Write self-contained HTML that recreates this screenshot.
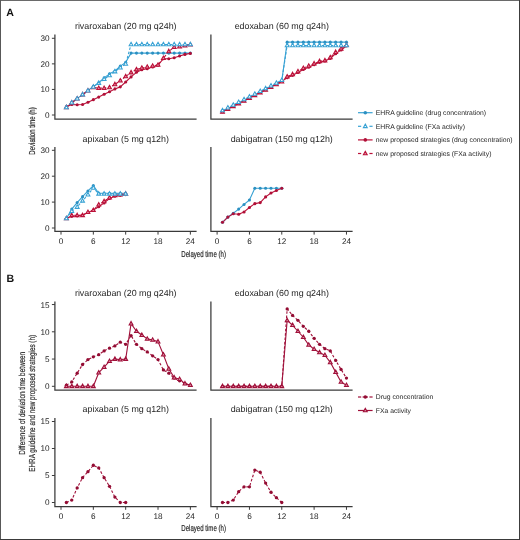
<!DOCTYPE html><html><head><meta charset="utf-8"><style>html,body{margin:0;padding:0;background:#fff;}svg{display:block;will-change:transform;text-rendering:geometricPrecision;}</style></head><body><svg width="520" height="540" viewBox="0 0 520 540" font-family='"Liberation Sans", sans-serif'>
<rect x="0" y="0" width="520" height="540" fill="#ffffff"/>
<text x="6.30" y="15.90" font-size="10.6" text-anchor="start" fill="#111" font-weight="bold" >A</text>
<text x="6.60" y="282.40" font-size="10.6" text-anchor="start" fill="#111" font-weight="bold" >B</text>
<text x="125.75" y="29.00" font-size="8.9" text-anchor="middle" fill="#262626" font-weight="normal" >rivaroxaban (20 mg q24h)</text>
<path d="M54.90,34.50 L54.90,119.00 L196.60,119.00" fill="none" stroke="#3a3a3a" stroke-width="1.25"/>
<line x1="51.90" y1="115.00" x2="54.90" y2="115.00" stroke="#3a3a3a" stroke-width="1"/>
<text x="49.50" y="117.95" font-size="8.2" text-anchor="end" fill="#262626" font-weight="normal" >0</text>
<line x1="51.90" y1="89.43" x2="54.90" y2="89.43" stroke="#3a3a3a" stroke-width="1"/>
<text x="49.50" y="92.38" font-size="8.2" text-anchor="end" fill="#262626" font-weight="normal" >10</text>
<line x1="51.90" y1="63.86" x2="54.90" y2="63.86" stroke="#3a3a3a" stroke-width="1"/>
<text x="49.50" y="66.81" font-size="8.2" text-anchor="end" fill="#262626" font-weight="normal" >20</text>
<line x1="51.90" y1="38.29" x2="54.90" y2="38.29" stroke="#3a3a3a" stroke-width="1"/>
<text x="49.50" y="41.24" font-size="8.2" text-anchor="end" fill="#262626" font-weight="normal" >30</text>
<text x="281.75" y="29.00" font-size="8.9" text-anchor="middle" fill="#262626" font-weight="normal" >edoxaban (60 mg q24h)</text>
<path d="M210.90,34.50 L210.90,119.00 L352.60,119.00" fill="none" stroke="#3a3a3a" stroke-width="1.25"/>
<text x="125.75" y="141.80" font-size="8.9" text-anchor="middle" fill="#262626" font-weight="normal" >apixaban (5 mg q12h)</text>
<path d="M54.90,147.00 L54.90,231.30 L196.60,231.30" fill="none" stroke="#3a3a3a" stroke-width="1.25"/>
<line x1="51.90" y1="228.00" x2="54.90" y2="228.00" stroke="#3a3a3a" stroke-width="1"/>
<text x="49.50" y="230.95" font-size="8.2" text-anchor="end" fill="#262626" font-weight="normal" >0</text>
<line x1="51.90" y1="202.10" x2="54.90" y2="202.10" stroke="#3a3a3a" stroke-width="1"/>
<text x="49.50" y="205.05" font-size="8.2" text-anchor="end" fill="#262626" font-weight="normal" >10</text>
<line x1="51.90" y1="176.20" x2="54.90" y2="176.20" stroke="#3a3a3a" stroke-width="1"/>
<text x="49.50" y="179.15" font-size="8.2" text-anchor="end" fill="#262626" font-weight="normal" >20</text>
<line x1="51.90" y1="150.30" x2="54.90" y2="150.30" stroke="#3a3a3a" stroke-width="1"/>
<text x="49.50" y="153.25" font-size="8.2" text-anchor="end" fill="#262626" font-weight="normal" >30</text>
<line x1="61.00" y1="231.30" x2="61.00" y2="234.60" stroke="#3a3a3a" stroke-width="1"/>
<text x="61.00" y="244.20" font-size="8.2" text-anchor="middle" fill="#262626" font-weight="normal" >0</text>
<line x1="93.34" y1="231.30" x2="93.34" y2="234.60" stroke="#3a3a3a" stroke-width="1"/>
<text x="93.34" y="244.20" font-size="8.2" text-anchor="middle" fill="#262626" font-weight="normal" >6</text>
<line x1="125.68" y1="231.30" x2="125.68" y2="234.60" stroke="#3a3a3a" stroke-width="1"/>
<text x="125.68" y="244.20" font-size="8.2" text-anchor="middle" fill="#262626" font-weight="normal" >12</text>
<line x1="158.02" y1="231.30" x2="158.02" y2="234.60" stroke="#3a3a3a" stroke-width="1"/>
<text x="158.02" y="244.20" font-size="8.2" text-anchor="middle" fill="#262626" font-weight="normal" >18</text>
<line x1="190.36" y1="231.30" x2="190.36" y2="234.60" stroke="#3a3a3a" stroke-width="1"/>
<text x="190.36" y="244.20" font-size="8.2" text-anchor="middle" fill="#262626" font-weight="normal" >24</text>
<text x="281.75" y="141.80" font-size="8.9" text-anchor="middle" fill="#262626" font-weight="normal" >dabigatran (150 mg q12h)</text>
<path d="M210.90,147.00 L210.90,231.30 L352.60,231.30" fill="none" stroke="#3a3a3a" stroke-width="1.25"/>
<line x1="217.10" y1="231.30" x2="217.10" y2="234.60" stroke="#3a3a3a" stroke-width="1"/>
<text x="217.10" y="244.20" font-size="8.2" text-anchor="middle" fill="#262626" font-weight="normal" >0</text>
<line x1="249.44" y1="231.30" x2="249.44" y2="234.60" stroke="#3a3a3a" stroke-width="1"/>
<text x="249.44" y="244.20" font-size="8.2" text-anchor="middle" fill="#262626" font-weight="normal" >6</text>
<line x1="281.78" y1="231.30" x2="281.78" y2="234.60" stroke="#3a3a3a" stroke-width="1"/>
<text x="281.78" y="244.20" font-size="8.2" text-anchor="middle" fill="#262626" font-weight="normal" >12</text>
<line x1="314.12" y1="231.30" x2="314.12" y2="234.60" stroke="#3a3a3a" stroke-width="1"/>
<text x="314.12" y="244.20" font-size="8.2" text-anchor="middle" fill="#262626" font-weight="normal" >18</text>
<line x1="346.46" y1="231.30" x2="346.46" y2="234.60" stroke="#3a3a3a" stroke-width="1"/>
<text x="346.46" y="244.20" font-size="8.2" text-anchor="middle" fill="#262626" font-weight="normal" >24</text>
<text x="125.75" y="295.80" font-size="8.9" text-anchor="middle" fill="#262626" font-weight="normal" >rivaroxaban (20 mg q24h)</text>
<path d="M54.90,301.50 L54.90,390.00 L196.60,390.00" fill="none" stroke="#3a3a3a" stroke-width="1.25"/>
<line x1="51.90" y1="386.30" x2="54.90" y2="386.30" stroke="#3a3a3a" stroke-width="1"/>
<text x="49.50" y="389.25" font-size="8.2" text-anchor="end" fill="#262626" font-weight="normal" >0</text>
<line x1="51.90" y1="359.05" x2="54.90" y2="359.05" stroke="#3a3a3a" stroke-width="1"/>
<text x="49.50" y="362.00" font-size="8.2" text-anchor="end" fill="#262626" font-weight="normal" >5</text>
<line x1="51.90" y1="331.80" x2="54.90" y2="331.80" stroke="#3a3a3a" stroke-width="1"/>
<text x="49.50" y="334.75" font-size="8.2" text-anchor="end" fill="#262626" font-weight="normal" >10</text>
<line x1="51.90" y1="304.55" x2="54.90" y2="304.55" stroke="#3a3a3a" stroke-width="1"/>
<text x="49.50" y="307.50" font-size="8.2" text-anchor="end" fill="#262626" font-weight="normal" >15</text>
<text x="281.75" y="295.80" font-size="8.9" text-anchor="middle" fill="#262626" font-weight="normal" >edoxaban (60 mg q24h)</text>
<path d="M210.90,301.50 L210.90,390.00 L352.60,390.00" fill="none" stroke="#3a3a3a" stroke-width="1.25"/>
<text x="125.75" y="412.20" font-size="8.9" text-anchor="middle" fill="#262626" font-weight="normal" >apixaban (5 mg q12h)</text>
<path d="M54.90,418.00 L54.90,506.50 L196.60,506.50" fill="none" stroke="#3a3a3a" stroke-width="1.25"/>
<line x1="51.90" y1="502.50" x2="54.90" y2="502.50" stroke="#3a3a3a" stroke-width="1"/>
<text x="49.50" y="505.45" font-size="8.2" text-anchor="end" fill="#262626" font-weight="normal" >0</text>
<line x1="51.90" y1="475.50" x2="54.90" y2="475.50" stroke="#3a3a3a" stroke-width="1"/>
<text x="49.50" y="478.45" font-size="8.2" text-anchor="end" fill="#262626" font-weight="normal" >5</text>
<line x1="51.90" y1="448.50" x2="54.90" y2="448.50" stroke="#3a3a3a" stroke-width="1"/>
<text x="49.50" y="451.45" font-size="8.2" text-anchor="end" fill="#262626" font-weight="normal" >10</text>
<line x1="51.90" y1="421.50" x2="54.90" y2="421.50" stroke="#3a3a3a" stroke-width="1"/>
<text x="49.50" y="424.45" font-size="8.2" text-anchor="end" fill="#262626" font-weight="normal" >15</text>
<line x1="61.00" y1="506.50" x2="61.00" y2="509.80" stroke="#3a3a3a" stroke-width="1"/>
<text x="61.00" y="519.40" font-size="8.2" text-anchor="middle" fill="#262626" font-weight="normal" >0</text>
<line x1="93.34" y1="506.50" x2="93.34" y2="509.80" stroke="#3a3a3a" stroke-width="1"/>
<text x="93.34" y="519.40" font-size="8.2" text-anchor="middle" fill="#262626" font-weight="normal" >6</text>
<line x1="125.68" y1="506.50" x2="125.68" y2="509.80" stroke="#3a3a3a" stroke-width="1"/>
<text x="125.68" y="519.40" font-size="8.2" text-anchor="middle" fill="#262626" font-weight="normal" >12</text>
<line x1="158.02" y1="506.50" x2="158.02" y2="509.80" stroke="#3a3a3a" stroke-width="1"/>
<text x="158.02" y="519.40" font-size="8.2" text-anchor="middle" fill="#262626" font-weight="normal" >18</text>
<line x1="190.36" y1="506.50" x2="190.36" y2="509.80" stroke="#3a3a3a" stroke-width="1"/>
<text x="190.36" y="519.40" font-size="8.2" text-anchor="middle" fill="#262626" font-weight="normal" >24</text>
<text x="281.75" y="412.20" font-size="8.9" text-anchor="middle" fill="#262626" font-weight="normal" >dabigatran (150 mg q12h)</text>
<path d="M210.90,418.00 L210.90,506.50 L352.60,506.50" fill="none" stroke="#3a3a3a" stroke-width="1.25"/>
<line x1="217.10" y1="506.50" x2="217.10" y2="509.80" stroke="#3a3a3a" stroke-width="1"/>
<text x="217.10" y="519.40" font-size="8.2" text-anchor="middle" fill="#262626" font-weight="normal" >0</text>
<line x1="249.44" y1="506.50" x2="249.44" y2="509.80" stroke="#3a3a3a" stroke-width="1"/>
<text x="249.44" y="519.40" font-size="8.2" text-anchor="middle" fill="#262626" font-weight="normal" >6</text>
<line x1="281.78" y1="506.50" x2="281.78" y2="509.80" stroke="#3a3a3a" stroke-width="1"/>
<text x="281.78" y="519.40" font-size="8.2" text-anchor="middle" fill="#262626" font-weight="normal" >12</text>
<line x1="314.12" y1="506.50" x2="314.12" y2="509.80" stroke="#3a3a3a" stroke-width="1"/>
<text x="314.12" y="519.40" font-size="8.2" text-anchor="middle" fill="#262626" font-weight="normal" >18</text>
<line x1="346.46" y1="506.50" x2="346.46" y2="509.80" stroke="#3a3a3a" stroke-width="1"/>
<text x="346.46" y="519.40" font-size="8.2" text-anchor="middle" fill="#262626" font-weight="normal" >24</text>
<path d="M66.39,107.33 L71.78,102.47 L77.17,98.38 L82.56,94.80 L87.95,90.45 L93.34,86.36 L98.73,82.78 L104.12,77.92 L109.51,73.83 L114.90,71.02 L120.29,66.16 L125.68,62.33 L131.07,53.12 L136.46,53.12 L141.85,53.12 L147.24,53.12 L152.63,53.12 L158.02,53.12 L163.41,53.12 L168.80,53.12 L174.19,53.12 L179.58,53.12 L184.97,53.12 L190.36,53.12" fill="none" stroke="#38a2d4" stroke-width="1.1" stroke-linejoin="round"/>
<path d="M66.39,107.33 L71.78,102.73 L77.17,98.64 L82.56,94.54 L87.95,90.71 L93.34,86.87 L98.73,83.04 L104.12,79.20 L109.51,75.37 L114.90,71.53 L120.29,67.70 L125.68,63.86 L131.07,44.43 L136.46,44.43 L141.85,44.43 L147.24,44.43 L152.63,44.43 L158.02,44.43 L163.41,44.43 L168.80,44.43 L174.19,44.43 L179.58,44.43 L184.97,44.43 L190.36,44.43" fill="none" stroke="#38a2d4" stroke-width="1.1" stroke-dasharray="2.6,1.8" stroke-linejoin="round"/>
<path d="M222.49,111.16 L227.88,108.42 L233.27,105.67 L238.66,102.92 L244.05,100.17 L249.44,97.42 L254.83,94.67 L260.22,91.92 L265.61,89.17 L271.00,86.43 L276.39,83.68 L281.78,80.93 L287.17,42.13 L292.56,42.13 L297.95,42.13 L303.34,42.13 L308.73,42.13 L314.12,42.13 L319.51,42.13 L324.90,42.13 L330.29,42.13 L335.68,42.13 L341.07,42.13 L346.46,42.13" fill="none" stroke="#38a2d4" stroke-width="1.1" stroke-linejoin="round"/>
<path d="M222.49,110.40 L227.88,107.65 L233.27,104.90 L238.66,102.15 L244.05,99.40 L249.44,96.65 L254.83,93.90 L260.22,91.16 L265.61,88.41 L271.00,85.66 L276.39,82.91 L281.78,80.16 L287.17,45.45 L292.56,45.45 L297.95,45.45 L303.34,45.45 L308.73,45.45 L314.12,45.45 L319.51,45.45 L324.90,45.45 L330.29,45.45 L335.68,45.45 L341.07,45.45 L346.46,45.45" fill="none" stroke="#38a2d4" stroke-width="1.1" stroke-dasharray="2.6,1.8" stroke-linejoin="round"/>
<path d="M66.39,218.42 L71.78,209.09 L77.17,202.62 L82.56,196.66 L87.95,190.96 L93.34,185.52 L98.73,193.29 L104.12,193.29 L109.51,193.29 L114.90,193.29 L120.29,193.29 L125.68,193.29" fill="none" stroke="#38a2d4" stroke-width="1.1" stroke-linejoin="round"/>
<path d="M66.39,218.42 L71.78,211.16 L77.17,207.02 L82.56,200.81 L87.95,194.59 L93.34,187.86 L98.73,193.81 L104.12,193.81 L109.51,193.81 L114.90,193.81 L120.29,193.81 L125.68,193.81" fill="none" stroke="#38a2d4" stroke-width="1.1" stroke-dasharray="2.6,1.8" stroke-linejoin="round"/>
<path d="M222.49,222.30 L227.88,217.12 L233.27,213.24 L238.66,209.09 L244.05,204.43 L249.44,200.03 L254.83,188.24 L260.22,188.24 L265.61,188.24 L271.00,188.24 L276.39,188.24 L281.78,188.24" fill="none" stroke="#38a2d4" stroke-width="1.1" stroke-linejoin="round"/>
<path d="M66.39,385.21 L71.78,381.94 L77.17,373.22 L82.56,364.50 L87.95,359.60 L93.34,356.87 L98.73,354.69 L104.12,350.88 L109.51,348.15 L114.90,345.97 L120.29,342.16 L125.68,344.34 L131.07,335.62 L136.46,344.34 L141.85,348.69 L147.24,351.97 L152.63,355.78 L158.02,359.60 L163.41,369.95 L168.80,373.22 L174.19,378.12 L179.58,380.85 L184.97,383.57 L190.36,385.21" fill="none" stroke="#a0103a" stroke-width="1.1" stroke-dasharray="2.6,1.8" stroke-linejoin="round"/>
<path d="M66.39,386.30 L71.78,386.30 L77.17,386.30 L82.56,386.30 L87.95,386.30 L93.34,386.30 L98.73,372.68 L104.12,367.23 L109.51,361.23 L114.90,359.05 L120.29,359.60 L125.68,359.05 L131.07,323.62 L136.46,331.25 L141.85,335.07 L147.24,338.88 L152.63,339.98 L158.02,341.61 L163.41,354.69 L168.80,368.86 L174.19,377.58 L179.58,379.22 L184.97,383.57 L190.36,385.21" fill="none" stroke="#a0103a" stroke-width="1.1" stroke-linejoin="round"/>
<path d="M222.49,386.30 L227.88,386.30 L233.27,386.30 L238.66,386.30 L244.05,386.30 L249.44,386.30 L254.83,386.30 L260.22,386.30 L265.61,386.30 L271.00,386.30 L276.39,386.30 L281.78,386.30 L287.17,308.91 L292.56,315.45 L297.95,320.36 L303.34,326.35 L308.73,331.25 L314.12,338.34 L319.51,344.34 L324.90,348.69 L330.29,350.88 L335.68,360.41 L341.07,369.41 L346.46,378.12" fill="none" stroke="#a0103a" stroke-width="1.1" stroke-dasharray="2.6,1.8" stroke-linejoin="round"/>
<path d="M222.49,386.30 L227.88,386.30 L233.27,386.30 L238.66,386.30 L244.05,386.30 L249.44,386.30 L254.83,386.30 L260.22,386.30 L265.61,386.30 L271.00,386.30 L276.39,386.30 L281.78,386.30 L287.17,320.36 L292.56,325.26 L297.95,331.25 L303.34,337.25 L308.73,344.88 L314.12,349.24 L319.51,352.51 L324.90,355.24 L330.29,362.32 L335.68,372.13 L341.07,381.94 L346.46,385.21" fill="none" stroke="#a0103a" stroke-width="1.1" stroke-linejoin="round"/>
<path d="M66.39,502.50 L71.78,500.07 L77.17,487.92 L82.56,477.66 L87.95,471.72 L93.34,465.24 L98.73,467.94 L104.12,477.66 L109.51,486.30 L114.90,497.10 L120.29,502.50 L125.68,502.50" fill="none" stroke="#a0103a" stroke-width="1.1" stroke-dasharray="2.6,1.8" stroke-linejoin="round"/>
<path d="M222.49,502.50 L227.88,502.50 L233.27,500.07 L238.66,491.70 L244.05,486.84 L249.44,486.84 L254.83,470.10 L260.22,472.26 L265.61,483.06 L271.00,492.24 L276.39,497.64 L281.78,502.50" fill="none" stroke="#a0103a" stroke-width="1.1" stroke-dasharray="2.6,1.8" stroke-linejoin="round"/>
<path d="M66.39,106.82 L71.78,104.52 L77.17,104.77 L82.56,104.52 L87.95,102.22 L93.34,99.66 L98.73,97.10 L104.12,94.29 L109.51,91.73 L114.90,88.92 L120.29,86.87 L125.68,82.01 L131.07,76.90 L136.46,72.30 L141.85,69.74 L147.24,68.72 L152.63,66.93 L158.02,65.14 L163.41,58.75 L168.80,58.75 L174.19,57.72 L179.58,55.93 L184.97,54.40 L190.36,53.38" fill="none" stroke="#bb1139" stroke-width="1.1" stroke-linejoin="round"/>
<path d="M66.39,107.33 L71.78,102.73 L77.17,98.64 L82.56,94.54 L87.95,90.71 L93.34,87.38 L98.73,88.15 L104.12,88.15 L109.51,87.38 L114.90,84.32 L120.29,80.74 L125.68,76.39 L131.07,72.55 L136.46,69.49 L141.85,67.95 L147.24,66.93 L152.63,65.91 L158.02,64.88 L163.41,58.23 L168.80,51.33 L174.19,47.24 L179.58,46.73 L184.97,45.71 L190.36,44.68" fill="none" stroke="#bb1139" stroke-width="1.1" stroke-dasharray="2.6,1.8" stroke-linejoin="round"/>
<path d="M222.49,111.80 L227.88,109.05 L233.27,106.31 L238.66,103.56 L244.05,100.81 L249.44,98.06 L254.83,95.31 L260.22,92.56 L265.61,89.81 L271.00,87.06 L276.39,84.32 L281.78,81.57 L287.17,77.67 L292.56,75.37 L297.95,72.55 L303.34,69.49 L308.73,67.18 L314.12,64.63 L319.51,62.33 L324.90,61.05 L330.29,58.49 L335.68,53.63 L341.07,50.05 L346.46,45.96" fill="none" stroke="#bb1139" stroke-width="1.1" stroke-linejoin="round"/>
<path d="M222.49,111.80 L227.88,109.05 L233.27,106.31 L238.66,103.56 L244.05,100.81 L249.44,98.06 L254.83,95.31 L260.22,92.56 L265.61,89.81 L271.00,87.06 L276.39,84.32 L281.78,81.57 L287.17,76.65 L292.56,74.34 L297.95,71.53 L303.34,68.21 L308.73,65.91 L314.12,63.60 L319.51,61.30 L324.90,60.54 L330.29,57.47 L335.68,52.10 L341.07,48.77 L346.46,45.19" fill="none" stroke="#bb1139" stroke-width="1.1" stroke-dasharray="2.6,1.8" stroke-linejoin="round"/>
<path d="M66.39,218.42 L71.78,216.34 L77.17,215.83 L82.56,215.05 L87.95,212.46 L93.34,210.13 L98.73,206.76 L104.12,202.88 L109.51,198.47 L114.90,196.14 L120.29,195.37 L125.68,194.59" fill="none" stroke="#bb1139" stroke-width="1.1" stroke-linejoin="round"/>
<path d="M66.39,218.42 L71.78,215.31 L77.17,215.31 L82.56,215.31 L87.95,212.20 L93.34,210.13 L98.73,204.69 L104.12,201.32 L109.51,197.70 L114.90,195.37 L120.29,194.59 L125.68,193.81" fill="none" stroke="#bb1139" stroke-width="1.1" stroke-dasharray="2.6,1.8" stroke-linejoin="round"/>
<path d="M222.49,222.30 L227.88,217.12 L233.27,213.75 L238.66,214.27 L244.05,211.94 L249.44,207.54 L254.83,203.65 L260.22,202.62 L265.61,196.92 L271.00,193.03 L276.39,190.44 L281.78,188.24" fill="none" stroke="#bb1139" stroke-width="1.1" stroke-linejoin="round"/>
<circle cx="66.39" cy="107.33" r="1.55" fill="#2b90c2"/>
<circle cx="71.78" cy="102.47" r="1.55" fill="#2b90c2"/>
<circle cx="77.17" cy="98.38" r="1.55" fill="#2b90c2"/>
<circle cx="82.56" cy="94.80" r="1.55" fill="#2b90c2"/>
<circle cx="87.95" cy="90.45" r="1.55" fill="#2b90c2"/>
<circle cx="93.34" cy="86.36" r="1.55" fill="#2b90c2"/>
<circle cx="98.73" cy="82.78" r="1.55" fill="#2b90c2"/>
<circle cx="104.12" cy="77.92" r="1.55" fill="#2b90c2"/>
<circle cx="109.51" cy="73.83" r="1.55" fill="#2b90c2"/>
<circle cx="114.90" cy="71.02" r="1.55" fill="#2b90c2"/>
<circle cx="120.29" cy="66.16" r="1.55" fill="#2b90c2"/>
<circle cx="125.68" cy="62.33" r="1.55" fill="#2b90c2"/>
<circle cx="131.07" cy="53.12" r="1.55" fill="#2b90c2"/>
<circle cx="136.46" cy="53.12" r="1.55" fill="#2b90c2"/>
<circle cx="141.85" cy="53.12" r="1.55" fill="#2b90c2"/>
<circle cx="147.24" cy="53.12" r="1.55" fill="#2b90c2"/>
<circle cx="152.63" cy="53.12" r="1.55" fill="#2b90c2"/>
<circle cx="158.02" cy="53.12" r="1.55" fill="#2b90c2"/>
<circle cx="163.41" cy="53.12" r="1.55" fill="#2b90c2"/>
<circle cx="168.80" cy="53.12" r="1.55" fill="#2b90c2"/>
<circle cx="174.19" cy="53.12" r="1.55" fill="#2b90c2"/>
<circle cx="179.58" cy="53.12" r="1.55" fill="#2b90c2"/>
<circle cx="184.97" cy="53.12" r="1.55" fill="#2b90c2"/>
<circle cx="190.36" cy="53.12" r="1.55" fill="#2b90c2"/>
<circle cx="222.49" cy="111.16" r="1.55" fill="#2b90c2"/>
<circle cx="227.88" cy="108.42" r="1.55" fill="#2b90c2"/>
<circle cx="233.27" cy="105.67" r="1.55" fill="#2b90c2"/>
<circle cx="238.66" cy="102.92" r="1.55" fill="#2b90c2"/>
<circle cx="244.05" cy="100.17" r="1.55" fill="#2b90c2"/>
<circle cx="249.44" cy="97.42" r="1.55" fill="#2b90c2"/>
<circle cx="254.83" cy="94.67" r="1.55" fill="#2b90c2"/>
<circle cx="260.22" cy="91.92" r="1.55" fill="#2b90c2"/>
<circle cx="265.61" cy="89.17" r="1.55" fill="#2b90c2"/>
<circle cx="271.00" cy="86.43" r="1.55" fill="#2b90c2"/>
<circle cx="276.39" cy="83.68" r="1.55" fill="#2b90c2"/>
<circle cx="281.78" cy="80.93" r="1.55" fill="#2b90c2"/>
<circle cx="287.17" cy="42.13" r="1.55" fill="#2b90c2"/>
<circle cx="292.56" cy="42.13" r="1.55" fill="#2b90c2"/>
<circle cx="297.95" cy="42.13" r="1.55" fill="#2b90c2"/>
<circle cx="303.34" cy="42.13" r="1.55" fill="#2b90c2"/>
<circle cx="308.73" cy="42.13" r="1.55" fill="#2b90c2"/>
<circle cx="314.12" cy="42.13" r="1.55" fill="#2b90c2"/>
<circle cx="319.51" cy="42.13" r="1.55" fill="#2b90c2"/>
<circle cx="324.90" cy="42.13" r="1.55" fill="#2b90c2"/>
<circle cx="330.29" cy="42.13" r="1.55" fill="#2b90c2"/>
<circle cx="335.68" cy="42.13" r="1.55" fill="#2b90c2"/>
<circle cx="341.07" cy="42.13" r="1.55" fill="#2b90c2"/>
<circle cx="346.46" cy="42.13" r="1.55" fill="#2b90c2"/>
<circle cx="66.39" cy="218.42" r="1.55" fill="#2b90c2"/>
<circle cx="71.78" cy="209.09" r="1.55" fill="#2b90c2"/>
<circle cx="77.17" cy="202.62" r="1.55" fill="#2b90c2"/>
<circle cx="82.56" cy="196.66" r="1.55" fill="#2b90c2"/>
<circle cx="87.95" cy="190.96" r="1.55" fill="#2b90c2"/>
<circle cx="93.34" cy="185.52" r="1.55" fill="#2b90c2"/>
<circle cx="98.73" cy="193.29" r="1.55" fill="#2b90c2"/>
<circle cx="104.12" cy="193.29" r="1.55" fill="#2b90c2"/>
<circle cx="109.51" cy="193.29" r="1.55" fill="#2b90c2"/>
<circle cx="114.90" cy="193.29" r="1.55" fill="#2b90c2"/>
<circle cx="120.29" cy="193.29" r="1.55" fill="#2b90c2"/>
<circle cx="125.68" cy="193.29" r="1.55" fill="#2b90c2"/>
<circle cx="222.49" cy="222.30" r="1.55" fill="#2b90c2"/>
<circle cx="227.88" cy="217.12" r="1.55" fill="#2b90c2"/>
<circle cx="233.27" cy="213.24" r="1.55" fill="#2b90c2"/>
<circle cx="238.66" cy="209.09" r="1.55" fill="#2b90c2"/>
<circle cx="244.05" cy="204.43" r="1.55" fill="#2b90c2"/>
<circle cx="249.44" cy="200.03" r="1.55" fill="#2b90c2"/>
<circle cx="254.83" cy="188.24" r="1.55" fill="#2b90c2"/>
<circle cx="260.22" cy="188.24" r="1.55" fill="#2b90c2"/>
<circle cx="265.61" cy="188.24" r="1.55" fill="#2b90c2"/>
<circle cx="271.00" cy="188.24" r="1.55" fill="#2b90c2"/>
<circle cx="276.39" cy="188.24" r="1.55" fill="#2b90c2"/>
<circle cx="281.78" cy="188.24" r="1.55" fill="#2b90c2"/>
<circle cx="66.39" cy="106.82" r="1.55" fill="#b00f37"/>
<circle cx="71.78" cy="104.52" r="1.55" fill="#b00f37"/>
<circle cx="77.17" cy="104.77" r="1.55" fill="#b00f37"/>
<circle cx="82.56" cy="104.52" r="1.55" fill="#b00f37"/>
<circle cx="87.95" cy="102.22" r="1.55" fill="#b00f37"/>
<circle cx="93.34" cy="99.66" r="1.55" fill="#b00f37"/>
<circle cx="98.73" cy="97.10" r="1.55" fill="#b00f37"/>
<circle cx="104.12" cy="94.29" r="1.55" fill="#b00f37"/>
<circle cx="109.51" cy="91.73" r="1.55" fill="#b00f37"/>
<circle cx="114.90" cy="88.92" r="1.55" fill="#b00f37"/>
<circle cx="120.29" cy="86.87" r="1.55" fill="#b00f37"/>
<circle cx="125.68" cy="82.01" r="1.55" fill="#b00f37"/>
<circle cx="131.07" cy="76.90" r="1.55" fill="#b00f37"/>
<circle cx="136.46" cy="72.30" r="1.55" fill="#b00f37"/>
<circle cx="141.85" cy="69.74" r="1.55" fill="#b00f37"/>
<circle cx="147.24" cy="68.72" r="1.55" fill="#b00f37"/>
<circle cx="152.63" cy="66.93" r="1.55" fill="#b00f37"/>
<circle cx="158.02" cy="65.14" r="1.55" fill="#b00f37"/>
<circle cx="163.41" cy="58.75" r="1.55" fill="#b00f37"/>
<circle cx="168.80" cy="58.75" r="1.55" fill="#b00f37"/>
<circle cx="174.19" cy="57.72" r="1.55" fill="#b00f37"/>
<circle cx="179.58" cy="55.93" r="1.55" fill="#b00f37"/>
<circle cx="184.97" cy="54.40" r="1.55" fill="#b00f37"/>
<circle cx="190.36" cy="53.38" r="1.55" fill="#b00f37"/>
<circle cx="222.49" cy="111.80" r="1.55" fill="#b00f37"/>
<circle cx="227.88" cy="109.05" r="1.55" fill="#b00f37"/>
<circle cx="233.27" cy="106.31" r="1.55" fill="#b00f37"/>
<circle cx="238.66" cy="103.56" r="1.55" fill="#b00f37"/>
<circle cx="244.05" cy="100.81" r="1.55" fill="#b00f37"/>
<circle cx="249.44" cy="98.06" r="1.55" fill="#b00f37"/>
<circle cx="254.83" cy="95.31" r="1.55" fill="#b00f37"/>
<circle cx="260.22" cy="92.56" r="1.55" fill="#b00f37"/>
<circle cx="265.61" cy="89.81" r="1.55" fill="#b00f37"/>
<circle cx="271.00" cy="87.06" r="1.55" fill="#b00f37"/>
<circle cx="276.39" cy="84.32" r="1.55" fill="#b00f37"/>
<circle cx="281.78" cy="81.57" r="1.55" fill="#b00f37"/>
<circle cx="287.17" cy="77.67" r="1.55" fill="#b00f37"/>
<circle cx="292.56" cy="75.37" r="1.55" fill="#b00f37"/>
<circle cx="297.95" cy="72.55" r="1.55" fill="#b00f37"/>
<circle cx="303.34" cy="69.49" r="1.55" fill="#b00f37"/>
<circle cx="308.73" cy="67.18" r="1.55" fill="#b00f37"/>
<circle cx="314.12" cy="64.63" r="1.55" fill="#b00f37"/>
<circle cx="319.51" cy="62.33" r="1.55" fill="#b00f37"/>
<circle cx="324.90" cy="61.05" r="1.55" fill="#b00f37"/>
<circle cx="330.29" cy="58.49" r="1.55" fill="#b00f37"/>
<circle cx="335.68" cy="53.63" r="1.55" fill="#b00f37"/>
<circle cx="341.07" cy="50.05" r="1.55" fill="#b00f37"/>
<circle cx="346.46" cy="45.96" r="1.55" fill="#b00f37"/>
<circle cx="66.39" cy="218.42" r="1.55" fill="#b00f37"/>
<circle cx="71.78" cy="216.34" r="1.55" fill="#b00f37"/>
<circle cx="77.17" cy="215.83" r="1.55" fill="#b00f37"/>
<circle cx="82.56" cy="215.05" r="1.55" fill="#b00f37"/>
<circle cx="87.95" cy="212.46" r="1.55" fill="#b00f37"/>
<circle cx="93.34" cy="210.13" r="1.55" fill="#b00f37"/>
<circle cx="98.73" cy="206.76" r="1.55" fill="#b00f37"/>
<circle cx="104.12" cy="202.88" r="1.55" fill="#b00f37"/>
<circle cx="109.51" cy="198.47" r="1.55" fill="#b00f37"/>
<circle cx="114.90" cy="196.14" r="1.55" fill="#b00f37"/>
<circle cx="120.29" cy="195.37" r="1.55" fill="#b00f37"/>
<circle cx="125.68" cy="194.59" r="1.55" fill="#b00f37"/>
<circle cx="222.49" cy="222.30" r="1.55" fill="#b00f37"/>
<circle cx="227.88" cy="217.12" r="1.55" fill="#b00f37"/>
<circle cx="233.27" cy="213.75" r="1.55" fill="#b00f37"/>
<circle cx="238.66" cy="214.27" r="1.55" fill="#b00f37"/>
<circle cx="244.05" cy="211.94" r="1.55" fill="#b00f37"/>
<circle cx="249.44" cy="207.54" r="1.55" fill="#b00f37"/>
<circle cx="254.83" cy="203.65" r="1.55" fill="#b00f37"/>
<circle cx="260.22" cy="202.62" r="1.55" fill="#b00f37"/>
<circle cx="265.61" cy="196.92" r="1.55" fill="#b00f37"/>
<circle cx="271.00" cy="193.03" r="1.55" fill="#b00f37"/>
<circle cx="276.39" cy="190.44" r="1.55" fill="#b00f37"/>
<circle cx="281.78" cy="188.24" r="1.55" fill="#b00f37"/>
<circle cx="66.39" cy="385.21" r="1.65" fill="#930c33"/>
<circle cx="71.78" cy="381.94" r="1.65" fill="#930c33"/>
<circle cx="77.17" cy="373.22" r="1.65" fill="#930c33"/>
<circle cx="82.56" cy="364.50" r="1.65" fill="#930c33"/>
<circle cx="87.95" cy="359.60" r="1.65" fill="#930c33"/>
<circle cx="93.34" cy="356.87" r="1.65" fill="#930c33"/>
<circle cx="98.73" cy="354.69" r="1.65" fill="#930c33"/>
<circle cx="104.12" cy="350.88" r="1.65" fill="#930c33"/>
<circle cx="109.51" cy="348.15" r="1.65" fill="#930c33"/>
<circle cx="114.90" cy="345.97" r="1.65" fill="#930c33"/>
<circle cx="120.29" cy="342.16" r="1.65" fill="#930c33"/>
<circle cx="125.68" cy="344.34" r="1.65" fill="#930c33"/>
<circle cx="131.07" cy="335.62" r="1.65" fill="#930c33"/>
<circle cx="136.46" cy="344.34" r="1.65" fill="#930c33"/>
<circle cx="141.85" cy="348.69" r="1.65" fill="#930c33"/>
<circle cx="147.24" cy="351.97" r="1.65" fill="#930c33"/>
<circle cx="152.63" cy="355.78" r="1.65" fill="#930c33"/>
<circle cx="158.02" cy="359.60" r="1.65" fill="#930c33"/>
<circle cx="163.41" cy="369.95" r="1.65" fill="#930c33"/>
<circle cx="168.80" cy="373.22" r="1.65" fill="#930c33"/>
<circle cx="174.19" cy="378.12" r="1.65" fill="#930c33"/>
<circle cx="179.58" cy="380.85" r="1.65" fill="#930c33"/>
<circle cx="184.97" cy="383.57" r="1.65" fill="#930c33"/>
<circle cx="190.36" cy="385.21" r="1.65" fill="#930c33"/>
<circle cx="222.49" cy="386.30" r="1.65" fill="#930c33"/>
<circle cx="227.88" cy="386.30" r="1.65" fill="#930c33"/>
<circle cx="233.27" cy="386.30" r="1.65" fill="#930c33"/>
<circle cx="238.66" cy="386.30" r="1.65" fill="#930c33"/>
<circle cx="244.05" cy="386.30" r="1.65" fill="#930c33"/>
<circle cx="249.44" cy="386.30" r="1.65" fill="#930c33"/>
<circle cx="254.83" cy="386.30" r="1.65" fill="#930c33"/>
<circle cx="260.22" cy="386.30" r="1.65" fill="#930c33"/>
<circle cx="265.61" cy="386.30" r="1.65" fill="#930c33"/>
<circle cx="271.00" cy="386.30" r="1.65" fill="#930c33"/>
<circle cx="276.39" cy="386.30" r="1.65" fill="#930c33"/>
<circle cx="281.78" cy="386.30" r="1.65" fill="#930c33"/>
<circle cx="287.17" cy="308.91" r="1.65" fill="#930c33"/>
<circle cx="292.56" cy="315.45" r="1.65" fill="#930c33"/>
<circle cx="297.95" cy="320.36" r="1.65" fill="#930c33"/>
<circle cx="303.34" cy="326.35" r="1.65" fill="#930c33"/>
<circle cx="308.73" cy="331.25" r="1.65" fill="#930c33"/>
<circle cx="314.12" cy="338.34" r="1.65" fill="#930c33"/>
<circle cx="319.51" cy="344.34" r="1.65" fill="#930c33"/>
<circle cx="324.90" cy="348.69" r="1.65" fill="#930c33"/>
<circle cx="330.29" cy="350.88" r="1.65" fill="#930c33"/>
<circle cx="335.68" cy="360.41" r="1.65" fill="#930c33"/>
<circle cx="341.07" cy="369.41" r="1.65" fill="#930c33"/>
<circle cx="346.46" cy="378.12" r="1.65" fill="#930c33"/>
<circle cx="66.39" cy="502.50" r="1.65" fill="#930c33"/>
<circle cx="71.78" cy="500.07" r="1.65" fill="#930c33"/>
<circle cx="77.17" cy="487.92" r="1.65" fill="#930c33"/>
<circle cx="82.56" cy="477.66" r="1.65" fill="#930c33"/>
<circle cx="87.95" cy="471.72" r="1.65" fill="#930c33"/>
<circle cx="93.34" cy="465.24" r="1.65" fill="#930c33"/>
<circle cx="98.73" cy="467.94" r="1.65" fill="#930c33"/>
<circle cx="104.12" cy="477.66" r="1.65" fill="#930c33"/>
<circle cx="109.51" cy="486.30" r="1.65" fill="#930c33"/>
<circle cx="114.90" cy="497.10" r="1.65" fill="#930c33"/>
<circle cx="120.29" cy="502.50" r="1.65" fill="#930c33"/>
<circle cx="125.68" cy="502.50" r="1.65" fill="#930c33"/>
<circle cx="222.49" cy="502.50" r="1.65" fill="#930c33"/>
<circle cx="227.88" cy="502.50" r="1.65" fill="#930c33"/>
<circle cx="233.27" cy="500.07" r="1.65" fill="#930c33"/>
<circle cx="238.66" cy="491.70" r="1.65" fill="#930c33"/>
<circle cx="244.05" cy="486.84" r="1.65" fill="#930c33"/>
<circle cx="249.44" cy="486.84" r="1.65" fill="#930c33"/>
<circle cx="254.83" cy="470.10" r="1.65" fill="#930c33"/>
<circle cx="260.22" cy="472.26" r="1.65" fill="#930c33"/>
<circle cx="265.61" cy="483.06" r="1.65" fill="#930c33"/>
<circle cx="271.00" cy="492.24" r="1.65" fill="#930c33"/>
<circle cx="276.39" cy="497.64" r="1.65" fill="#930c33"/>
<circle cx="281.78" cy="502.50" r="1.65" fill="#930c33"/>
<path d="M66.39,105.16 L68.34,108.66 L64.44,108.66 Z" fill="#e28a9f" stroke="#bb1139" stroke-width="1.05" stroke-linejoin="miter"/>
<path d="M71.78,100.56 L73.73,104.06 L69.83,104.06 Z" fill="#e28a9f" stroke="#bb1139" stroke-width="1.05" stroke-linejoin="miter"/>
<path d="M77.17,96.47 L79.12,99.97 L75.22,99.97 Z" fill="#e28a9f" stroke="#bb1139" stroke-width="1.05" stroke-linejoin="miter"/>
<path d="M82.56,92.37 L84.51,95.87 L80.61,95.87 Z" fill="#e28a9f" stroke="#bb1139" stroke-width="1.05" stroke-linejoin="miter"/>
<path d="M87.95,88.54 L89.90,92.04 L86.00,92.04 Z" fill="#e28a9f" stroke="#bb1139" stroke-width="1.05" stroke-linejoin="miter"/>
<path d="M93.34,85.21 L95.29,88.71 L91.39,88.71 Z" fill="#e28a9f" stroke="#bb1139" stroke-width="1.05" stroke-linejoin="miter"/>
<path d="M98.73,85.98 L100.68,89.48 L96.78,89.48 Z" fill="#e28a9f" stroke="#bb1139" stroke-width="1.05" stroke-linejoin="miter"/>
<path d="M104.12,85.98 L106.07,89.48 L102.17,89.48 Z" fill="#e28a9f" stroke="#bb1139" stroke-width="1.05" stroke-linejoin="miter"/>
<path d="M109.51,85.21 L111.46,88.71 L107.56,88.71 Z" fill="#e28a9f" stroke="#bb1139" stroke-width="1.05" stroke-linejoin="miter"/>
<path d="M114.90,82.15 L116.85,85.65 L112.95,85.65 Z" fill="#e28a9f" stroke="#bb1139" stroke-width="1.05" stroke-linejoin="miter"/>
<path d="M120.29,78.57 L122.24,82.07 L118.34,82.07 Z" fill="#e28a9f" stroke="#bb1139" stroke-width="1.05" stroke-linejoin="miter"/>
<path d="M125.68,74.22 L127.63,77.72 L123.73,77.72 Z" fill="#e28a9f" stroke="#bb1139" stroke-width="1.05" stroke-linejoin="miter"/>
<path d="M131.07,70.38 L133.02,73.88 L129.12,73.88 Z" fill="#e28a9f" stroke="#bb1139" stroke-width="1.05" stroke-linejoin="miter"/>
<path d="M136.46,67.32 L138.41,70.82 L134.51,70.82 Z" fill="#e28a9f" stroke="#bb1139" stroke-width="1.05" stroke-linejoin="miter"/>
<path d="M141.85,65.78 L143.80,69.28 L139.90,69.28 Z" fill="#e28a9f" stroke="#bb1139" stroke-width="1.05" stroke-linejoin="miter"/>
<path d="M147.24,64.76 L149.19,68.26 L145.29,68.26 Z" fill="#e28a9f" stroke="#bb1139" stroke-width="1.05" stroke-linejoin="miter"/>
<path d="M152.63,63.74 L154.58,67.24 L150.68,67.24 Z" fill="#e28a9f" stroke="#bb1139" stroke-width="1.05" stroke-linejoin="miter"/>
<path d="M158.02,62.71 L159.97,66.21 L156.07,66.21 Z" fill="#e28a9f" stroke="#bb1139" stroke-width="1.05" stroke-linejoin="miter"/>
<path d="M163.41,56.06 L165.36,59.56 L161.46,59.56 Z" fill="#e28a9f" stroke="#bb1139" stroke-width="1.05" stroke-linejoin="miter"/>
<path d="M168.80,49.16 L170.75,52.66 L166.85,52.66 Z" fill="#e28a9f" stroke="#bb1139" stroke-width="1.05" stroke-linejoin="miter"/>
<path d="M174.19,45.07 L176.14,48.57 L172.24,48.57 Z" fill="#e28a9f" stroke="#bb1139" stroke-width="1.05" stroke-linejoin="miter"/>
<path d="M179.58,44.56 L181.53,48.06 L177.63,48.06 Z" fill="#e28a9f" stroke="#bb1139" stroke-width="1.05" stroke-linejoin="miter"/>
<path d="M184.97,43.54 L186.92,47.04 L183.02,47.04 Z" fill="#e28a9f" stroke="#bb1139" stroke-width="1.05" stroke-linejoin="miter"/>
<path d="M190.36,42.51 L192.31,46.01 L188.41,46.01 Z" fill="#e28a9f" stroke="#bb1139" stroke-width="1.05" stroke-linejoin="miter"/>
<path d="M222.49,109.63 L224.44,113.13 L220.54,113.13 Z" fill="#e28a9f" stroke="#bb1139" stroke-width="1.05" stroke-linejoin="miter"/>
<path d="M227.88,106.88 L229.83,110.38 L225.93,110.38 Z" fill="#e28a9f" stroke="#bb1139" stroke-width="1.05" stroke-linejoin="miter"/>
<path d="M233.27,104.14 L235.22,107.64 L231.32,107.64 Z" fill="#e28a9f" stroke="#bb1139" stroke-width="1.05" stroke-linejoin="miter"/>
<path d="M238.66,101.39 L240.61,104.89 L236.71,104.89 Z" fill="#e28a9f" stroke="#bb1139" stroke-width="1.05" stroke-linejoin="miter"/>
<path d="M244.05,98.64 L246.00,102.14 L242.10,102.14 Z" fill="#e28a9f" stroke="#bb1139" stroke-width="1.05" stroke-linejoin="miter"/>
<path d="M249.44,95.89 L251.39,99.39 L247.49,99.39 Z" fill="#e28a9f" stroke="#bb1139" stroke-width="1.05" stroke-linejoin="miter"/>
<path d="M254.83,93.14 L256.78,96.64 L252.88,96.64 Z" fill="#e28a9f" stroke="#bb1139" stroke-width="1.05" stroke-linejoin="miter"/>
<path d="M260.22,90.39 L262.17,93.89 L258.27,93.89 Z" fill="#e28a9f" stroke="#bb1139" stroke-width="1.05" stroke-linejoin="miter"/>
<path d="M265.61,87.64 L267.56,91.14 L263.66,91.14 Z" fill="#e28a9f" stroke="#bb1139" stroke-width="1.05" stroke-linejoin="miter"/>
<path d="M271.00,84.89 L272.95,88.39 L269.05,88.39 Z" fill="#e28a9f" stroke="#bb1139" stroke-width="1.05" stroke-linejoin="miter"/>
<path d="M276.39,82.15 L278.34,85.65 L274.44,85.65 Z" fill="#e28a9f" stroke="#bb1139" stroke-width="1.05" stroke-linejoin="miter"/>
<path d="M281.78,79.40 L283.73,82.90 L279.83,82.90 Z" fill="#e28a9f" stroke="#bb1139" stroke-width="1.05" stroke-linejoin="miter"/>
<path d="M287.17,74.48 L289.12,77.98 L285.22,77.98 Z" fill="#e28a9f" stroke="#bb1139" stroke-width="1.05" stroke-linejoin="miter"/>
<path d="M292.56,72.17 L294.51,75.67 L290.61,75.67 Z" fill="#e28a9f" stroke="#bb1139" stroke-width="1.05" stroke-linejoin="miter"/>
<path d="M297.95,69.36 L299.90,72.86 L296.00,72.86 Z" fill="#e28a9f" stroke="#bb1139" stroke-width="1.05" stroke-linejoin="miter"/>
<path d="M303.34,66.04 L305.29,69.54 L301.39,69.54 Z" fill="#e28a9f" stroke="#bb1139" stroke-width="1.05" stroke-linejoin="miter"/>
<path d="M308.73,63.74 L310.68,67.24 L306.78,67.24 Z" fill="#e28a9f" stroke="#bb1139" stroke-width="1.05" stroke-linejoin="miter"/>
<path d="M314.12,61.43 L316.07,64.93 L312.17,64.93 Z" fill="#e28a9f" stroke="#bb1139" stroke-width="1.05" stroke-linejoin="miter"/>
<path d="M319.51,59.13 L321.46,62.63 L317.56,62.63 Z" fill="#e28a9f" stroke="#bb1139" stroke-width="1.05" stroke-linejoin="miter"/>
<path d="M324.90,58.37 L326.85,61.87 L322.95,61.87 Z" fill="#e28a9f" stroke="#bb1139" stroke-width="1.05" stroke-linejoin="miter"/>
<path d="M330.29,55.30 L332.24,58.80 L328.34,58.80 Z" fill="#e28a9f" stroke="#bb1139" stroke-width="1.05" stroke-linejoin="miter"/>
<path d="M335.68,49.93 L337.63,53.43 L333.73,53.43 Z" fill="#e28a9f" stroke="#bb1139" stroke-width="1.05" stroke-linejoin="miter"/>
<path d="M341.07,46.60 L343.02,50.10 L339.12,50.10 Z" fill="#e28a9f" stroke="#bb1139" stroke-width="1.05" stroke-linejoin="miter"/>
<path d="M346.46,43.02 L348.41,46.52 L344.51,46.52 Z" fill="#e28a9f" stroke="#bb1139" stroke-width="1.05" stroke-linejoin="miter"/>
<path d="M66.39,216.25 L68.34,219.75 L64.44,219.75 Z" fill="#e28a9f" stroke="#bb1139" stroke-width="1.05" stroke-linejoin="miter"/>
<path d="M71.78,213.14 L73.73,216.64 L69.83,216.64 Z" fill="#e28a9f" stroke="#bb1139" stroke-width="1.05" stroke-linejoin="miter"/>
<path d="M77.17,213.14 L79.12,216.64 L75.22,216.64 Z" fill="#e28a9f" stroke="#bb1139" stroke-width="1.05" stroke-linejoin="miter"/>
<path d="M82.56,213.14 L84.51,216.64 L80.61,216.64 Z" fill="#e28a9f" stroke="#bb1139" stroke-width="1.05" stroke-linejoin="miter"/>
<path d="M87.95,210.03 L89.90,213.53 L86.00,213.53 Z" fill="#e28a9f" stroke="#bb1139" stroke-width="1.05" stroke-linejoin="miter"/>
<path d="M93.34,207.96 L95.29,211.46 L91.39,211.46 Z" fill="#e28a9f" stroke="#bb1139" stroke-width="1.05" stroke-linejoin="miter"/>
<path d="M98.73,202.52 L100.68,206.02 L96.78,206.02 Z" fill="#e28a9f" stroke="#bb1139" stroke-width="1.05" stroke-linejoin="miter"/>
<path d="M104.12,199.15 L106.07,202.65 L102.17,202.65 Z" fill="#e28a9f" stroke="#bb1139" stroke-width="1.05" stroke-linejoin="miter"/>
<path d="M109.51,195.53 L111.46,199.03 L107.56,199.03 Z" fill="#e28a9f" stroke="#bb1139" stroke-width="1.05" stroke-linejoin="miter"/>
<path d="M114.90,193.20 L116.85,196.70 L112.95,196.70 Z" fill="#e28a9f" stroke="#bb1139" stroke-width="1.05" stroke-linejoin="miter"/>
<path d="M120.29,192.42 L122.24,195.92 L118.34,195.92 Z" fill="#e28a9f" stroke="#bb1139" stroke-width="1.05" stroke-linejoin="miter"/>
<path d="M125.68,191.64 L127.63,195.14 L123.73,195.14 Z" fill="#e28a9f" stroke="#bb1139" stroke-width="1.05" stroke-linejoin="miter"/>
<path d="M66.39,384.13 L68.34,387.63 L64.44,387.63 Z" fill="#d98a9e" stroke="#a0103a" stroke-width="1.05" stroke-linejoin="miter"/>
<path d="M71.78,384.13 L73.73,387.63 L69.83,387.63 Z" fill="#d98a9e" stroke="#a0103a" stroke-width="1.05" stroke-linejoin="miter"/>
<path d="M77.17,384.13 L79.12,387.63 L75.22,387.63 Z" fill="#d98a9e" stroke="#a0103a" stroke-width="1.05" stroke-linejoin="miter"/>
<path d="M82.56,384.13 L84.51,387.63 L80.61,387.63 Z" fill="#d98a9e" stroke="#a0103a" stroke-width="1.05" stroke-linejoin="miter"/>
<path d="M87.95,384.13 L89.90,387.63 L86.00,387.63 Z" fill="#d98a9e" stroke="#a0103a" stroke-width="1.05" stroke-linejoin="miter"/>
<path d="M93.34,384.13 L95.29,387.63 L91.39,387.63 Z" fill="#d98a9e" stroke="#a0103a" stroke-width="1.05" stroke-linejoin="miter"/>
<path d="M98.73,370.50 L100.68,374.00 L96.78,374.00 Z" fill="#d98a9e" stroke="#a0103a" stroke-width="1.05" stroke-linejoin="miter"/>
<path d="M104.12,365.06 L106.07,368.56 L102.17,368.56 Z" fill="#d98a9e" stroke="#a0103a" stroke-width="1.05" stroke-linejoin="miter"/>
<path d="M109.51,359.06 L111.46,362.56 L107.56,362.56 Z" fill="#d98a9e" stroke="#a0103a" stroke-width="1.05" stroke-linejoin="miter"/>
<path d="M114.90,356.88 L116.85,360.38 L112.95,360.38 Z" fill="#d98a9e" stroke="#a0103a" stroke-width="1.05" stroke-linejoin="miter"/>
<path d="M120.29,357.43 L122.24,360.93 L118.34,360.93 Z" fill="#d98a9e" stroke="#a0103a" stroke-width="1.05" stroke-linejoin="miter"/>
<path d="M125.68,356.88 L127.63,360.38 L123.73,360.38 Z" fill="#d98a9e" stroke="#a0103a" stroke-width="1.05" stroke-linejoin="miter"/>
<path d="M131.07,321.45 L133.02,324.95 L129.12,324.95 Z" fill="#d98a9e" stroke="#a0103a" stroke-width="1.05" stroke-linejoin="miter"/>
<path d="M136.46,329.08 L138.41,332.58 L134.51,332.58 Z" fill="#d98a9e" stroke="#a0103a" stroke-width="1.05" stroke-linejoin="miter"/>
<path d="M141.85,332.90 L143.80,336.40 L139.90,336.40 Z" fill="#d98a9e" stroke="#a0103a" stroke-width="1.05" stroke-linejoin="miter"/>
<path d="M147.24,336.71 L149.19,340.21 L145.29,340.21 Z" fill="#d98a9e" stroke="#a0103a" stroke-width="1.05" stroke-linejoin="miter"/>
<path d="M152.63,337.81 L154.58,341.31 L150.68,341.31 Z" fill="#d98a9e" stroke="#a0103a" stroke-width="1.05" stroke-linejoin="miter"/>
<path d="M158.02,339.44 L159.97,342.94 L156.07,342.94 Z" fill="#d98a9e" stroke="#a0103a" stroke-width="1.05" stroke-linejoin="miter"/>
<path d="M163.41,352.52 L165.36,356.02 L161.46,356.02 Z" fill="#d98a9e" stroke="#a0103a" stroke-width="1.05" stroke-linejoin="miter"/>
<path d="M168.80,366.69 L170.75,370.19 L166.85,370.19 Z" fill="#d98a9e" stroke="#a0103a" stroke-width="1.05" stroke-linejoin="miter"/>
<path d="M174.19,375.41 L176.14,378.91 L172.24,378.91 Z" fill="#d98a9e" stroke="#a0103a" stroke-width="1.05" stroke-linejoin="miter"/>
<path d="M179.58,377.05 L181.53,380.55 L177.63,380.55 Z" fill="#d98a9e" stroke="#a0103a" stroke-width="1.05" stroke-linejoin="miter"/>
<path d="M184.97,381.40 L186.92,384.90 L183.02,384.90 Z" fill="#d98a9e" stroke="#a0103a" stroke-width="1.05" stroke-linejoin="miter"/>
<path d="M190.36,383.04 L192.31,386.54 L188.41,386.54 Z" fill="#d98a9e" stroke="#a0103a" stroke-width="1.05" stroke-linejoin="miter"/>
<path d="M222.49,384.13 L224.44,387.63 L220.54,387.63 Z" fill="#d98a9e" stroke="#a0103a" stroke-width="1.05" stroke-linejoin="miter"/>
<path d="M227.88,384.13 L229.83,387.63 L225.93,387.63 Z" fill="#d98a9e" stroke="#a0103a" stroke-width="1.05" stroke-linejoin="miter"/>
<path d="M233.27,384.13 L235.22,387.63 L231.32,387.63 Z" fill="#d98a9e" stroke="#a0103a" stroke-width="1.05" stroke-linejoin="miter"/>
<path d="M238.66,384.13 L240.61,387.63 L236.71,387.63 Z" fill="#d98a9e" stroke="#a0103a" stroke-width="1.05" stroke-linejoin="miter"/>
<path d="M244.05,384.13 L246.00,387.63 L242.10,387.63 Z" fill="#d98a9e" stroke="#a0103a" stroke-width="1.05" stroke-linejoin="miter"/>
<path d="M249.44,384.13 L251.39,387.63 L247.49,387.63 Z" fill="#d98a9e" stroke="#a0103a" stroke-width="1.05" stroke-linejoin="miter"/>
<path d="M254.83,384.13 L256.78,387.63 L252.88,387.63 Z" fill="#d98a9e" stroke="#a0103a" stroke-width="1.05" stroke-linejoin="miter"/>
<path d="M260.22,384.13 L262.17,387.63 L258.27,387.63 Z" fill="#d98a9e" stroke="#a0103a" stroke-width="1.05" stroke-linejoin="miter"/>
<path d="M265.61,384.13 L267.56,387.63 L263.66,387.63 Z" fill="#d98a9e" stroke="#a0103a" stroke-width="1.05" stroke-linejoin="miter"/>
<path d="M271.00,384.13 L272.95,387.63 L269.05,387.63 Z" fill="#d98a9e" stroke="#a0103a" stroke-width="1.05" stroke-linejoin="miter"/>
<path d="M276.39,384.13 L278.34,387.63 L274.44,387.63 Z" fill="#d98a9e" stroke="#a0103a" stroke-width="1.05" stroke-linejoin="miter"/>
<path d="M281.78,384.13 L283.73,387.63 L279.83,387.63 Z" fill="#d98a9e" stroke="#a0103a" stroke-width="1.05" stroke-linejoin="miter"/>
<path d="M287.17,318.19 L289.12,321.69 L285.22,321.69 Z" fill="#d98a9e" stroke="#a0103a" stroke-width="1.05" stroke-linejoin="miter"/>
<path d="M292.56,323.09 L294.51,326.59 L290.61,326.59 Z" fill="#d98a9e" stroke="#a0103a" stroke-width="1.05" stroke-linejoin="miter"/>
<path d="M297.95,329.08 L299.90,332.58 L296.00,332.58 Z" fill="#d98a9e" stroke="#a0103a" stroke-width="1.05" stroke-linejoin="miter"/>
<path d="M303.34,335.08 L305.29,338.58 L301.39,338.58 Z" fill="#d98a9e" stroke="#a0103a" stroke-width="1.05" stroke-linejoin="miter"/>
<path d="M308.73,342.71 L310.68,346.21 L306.78,346.21 Z" fill="#d98a9e" stroke="#a0103a" stroke-width="1.05" stroke-linejoin="miter"/>
<path d="M314.12,347.07 L316.07,350.57 L312.17,350.57 Z" fill="#d98a9e" stroke="#a0103a" stroke-width="1.05" stroke-linejoin="miter"/>
<path d="M319.51,350.34 L321.46,353.84 L317.56,353.84 Z" fill="#d98a9e" stroke="#a0103a" stroke-width="1.05" stroke-linejoin="miter"/>
<path d="M324.90,353.06 L326.85,356.56 L322.95,356.56 Z" fill="#d98a9e" stroke="#a0103a" stroke-width="1.05" stroke-linejoin="miter"/>
<path d="M330.29,360.15 L332.24,363.65 L328.34,363.65 Z" fill="#d98a9e" stroke="#a0103a" stroke-width="1.05" stroke-linejoin="miter"/>
<path d="M335.68,369.96 L337.63,373.46 L333.73,373.46 Z" fill="#d98a9e" stroke="#a0103a" stroke-width="1.05" stroke-linejoin="miter"/>
<path d="M341.07,379.77 L343.02,383.27 L339.12,383.27 Z" fill="#d98a9e" stroke="#a0103a" stroke-width="1.05" stroke-linejoin="miter"/>
<path d="M346.46,383.04 L348.41,386.54 L344.51,386.54 Z" fill="#d98a9e" stroke="#a0103a" stroke-width="1.05" stroke-linejoin="miter"/>
<path d="M66.39,105.16 L68.34,108.66 L64.44,108.66 Z" fill="#ffffff" stroke="#38a2d4" stroke-width="1.05" stroke-linejoin="miter"/>
<path d="M71.78,100.56 L73.73,104.06 L69.83,104.06 Z" fill="#ffffff" stroke="#38a2d4" stroke-width="1.05" stroke-linejoin="miter"/>
<path d="M77.17,96.47 L79.12,99.97 L75.22,99.97 Z" fill="#ffffff" stroke="#38a2d4" stroke-width="1.05" stroke-linejoin="miter"/>
<path d="M82.56,92.37 L84.51,95.87 L80.61,95.87 Z" fill="#ffffff" stroke="#38a2d4" stroke-width="1.05" stroke-linejoin="miter"/>
<path d="M87.95,88.54 L89.90,92.04 L86.00,92.04 Z" fill="#ffffff" stroke="#38a2d4" stroke-width="1.05" stroke-linejoin="miter"/>
<path d="M93.34,84.70 L95.29,88.20 L91.39,88.20 Z" fill="#ffffff" stroke="#38a2d4" stroke-width="1.05" stroke-linejoin="miter"/>
<path d="M98.73,80.87 L100.68,84.37 L96.78,84.37 Z" fill="#ffffff" stroke="#38a2d4" stroke-width="1.05" stroke-linejoin="miter"/>
<path d="M104.12,77.03 L106.07,80.53 L102.17,80.53 Z" fill="#ffffff" stroke="#38a2d4" stroke-width="1.05" stroke-linejoin="miter"/>
<path d="M109.51,73.20 L111.46,76.70 L107.56,76.70 Z" fill="#ffffff" stroke="#38a2d4" stroke-width="1.05" stroke-linejoin="miter"/>
<path d="M114.90,69.36 L116.85,72.86 L112.95,72.86 Z" fill="#ffffff" stroke="#38a2d4" stroke-width="1.05" stroke-linejoin="miter"/>
<path d="M120.29,65.53 L122.24,69.03 L118.34,69.03 Z" fill="#ffffff" stroke="#38a2d4" stroke-width="1.05" stroke-linejoin="miter"/>
<path d="M125.68,61.69 L127.63,65.19 L123.73,65.19 Z" fill="#ffffff" stroke="#38a2d4" stroke-width="1.05" stroke-linejoin="miter"/>
<path d="M131.07,42.26 L133.02,45.76 L129.12,45.76 Z" fill="#ffffff" stroke="#38a2d4" stroke-width="1.05" stroke-linejoin="miter"/>
<path d="M136.46,42.26 L138.41,45.76 L134.51,45.76 Z" fill="#ffffff" stroke="#38a2d4" stroke-width="1.05" stroke-linejoin="miter"/>
<path d="M141.85,42.26 L143.80,45.76 L139.90,45.76 Z" fill="#ffffff" stroke="#38a2d4" stroke-width="1.05" stroke-linejoin="miter"/>
<path d="M147.24,42.26 L149.19,45.76 L145.29,45.76 Z" fill="#ffffff" stroke="#38a2d4" stroke-width="1.05" stroke-linejoin="miter"/>
<path d="M152.63,42.26 L154.58,45.76 L150.68,45.76 Z" fill="#ffffff" stroke="#38a2d4" stroke-width="1.05" stroke-linejoin="miter"/>
<path d="M158.02,42.26 L159.97,45.76 L156.07,45.76 Z" fill="#ffffff" stroke="#38a2d4" stroke-width="1.05" stroke-linejoin="miter"/>
<path d="M163.41,42.26 L165.36,45.76 L161.46,45.76 Z" fill="#ffffff" stroke="#38a2d4" stroke-width="1.05" stroke-linejoin="miter"/>
<path d="M168.80,42.26 L170.75,45.76 L166.85,45.76 Z" fill="#ffffff" stroke="#38a2d4" stroke-width="1.05" stroke-linejoin="miter"/>
<path d="M174.19,42.26 L176.14,45.76 L172.24,45.76 Z" fill="#ffffff" stroke="#38a2d4" stroke-width="1.05" stroke-linejoin="miter"/>
<path d="M179.58,42.26 L181.53,45.76 L177.63,45.76 Z" fill="#ffffff" stroke="#38a2d4" stroke-width="1.05" stroke-linejoin="miter"/>
<path d="M184.97,42.26 L186.92,45.76 L183.02,45.76 Z" fill="#ffffff" stroke="#38a2d4" stroke-width="1.05" stroke-linejoin="miter"/>
<path d="M190.36,42.26 L192.31,45.76 L188.41,45.76 Z" fill="#ffffff" stroke="#38a2d4" stroke-width="1.05" stroke-linejoin="miter"/>
<path d="M222.49,108.23 L224.44,111.73 L220.54,111.73 Z" fill="#ffffff" stroke="#38a2d4" stroke-width="1.05" stroke-linejoin="miter"/>
<path d="M227.88,105.48 L229.83,108.98 L225.93,108.98 Z" fill="#ffffff" stroke="#38a2d4" stroke-width="1.05" stroke-linejoin="miter"/>
<path d="M233.27,102.73 L235.22,106.23 L231.32,106.23 Z" fill="#ffffff" stroke="#38a2d4" stroke-width="1.05" stroke-linejoin="miter"/>
<path d="M238.66,99.98 L240.61,103.48 L236.71,103.48 Z" fill="#ffffff" stroke="#38a2d4" stroke-width="1.05" stroke-linejoin="miter"/>
<path d="M244.05,97.23 L246.00,100.73 L242.10,100.73 Z" fill="#ffffff" stroke="#38a2d4" stroke-width="1.05" stroke-linejoin="miter"/>
<path d="M249.44,94.48 L251.39,97.98 L247.49,97.98 Z" fill="#ffffff" stroke="#38a2d4" stroke-width="1.05" stroke-linejoin="miter"/>
<path d="M254.83,91.73 L256.78,95.23 L252.88,95.23 Z" fill="#ffffff" stroke="#38a2d4" stroke-width="1.05" stroke-linejoin="miter"/>
<path d="M260.22,88.99 L262.17,92.49 L258.27,92.49 Z" fill="#ffffff" stroke="#38a2d4" stroke-width="1.05" stroke-linejoin="miter"/>
<path d="M265.61,86.24 L267.56,89.74 L263.66,89.74 Z" fill="#ffffff" stroke="#38a2d4" stroke-width="1.05" stroke-linejoin="miter"/>
<path d="M271.00,83.49 L272.95,86.99 L269.05,86.99 Z" fill="#ffffff" stroke="#38a2d4" stroke-width="1.05" stroke-linejoin="miter"/>
<path d="M276.39,80.74 L278.34,84.24 L274.44,84.24 Z" fill="#ffffff" stroke="#38a2d4" stroke-width="1.05" stroke-linejoin="miter"/>
<path d="M281.78,77.99 L283.73,81.49 L279.83,81.49 Z" fill="#ffffff" stroke="#38a2d4" stroke-width="1.05" stroke-linejoin="miter"/>
<path d="M287.17,43.28 L289.12,46.78 L285.22,46.78 Z" fill="#ffffff" stroke="#38a2d4" stroke-width="1.05" stroke-linejoin="miter"/>
<path d="M292.56,43.28 L294.51,46.78 L290.61,46.78 Z" fill="#ffffff" stroke="#38a2d4" stroke-width="1.05" stroke-linejoin="miter"/>
<path d="M297.95,43.28 L299.90,46.78 L296.00,46.78 Z" fill="#ffffff" stroke="#38a2d4" stroke-width="1.05" stroke-linejoin="miter"/>
<path d="M303.34,43.28 L305.29,46.78 L301.39,46.78 Z" fill="#ffffff" stroke="#38a2d4" stroke-width="1.05" stroke-linejoin="miter"/>
<path d="M308.73,43.28 L310.68,46.78 L306.78,46.78 Z" fill="#ffffff" stroke="#38a2d4" stroke-width="1.05" stroke-linejoin="miter"/>
<path d="M314.12,43.28 L316.07,46.78 L312.17,46.78 Z" fill="#ffffff" stroke="#38a2d4" stroke-width="1.05" stroke-linejoin="miter"/>
<path d="M319.51,43.28 L321.46,46.78 L317.56,46.78 Z" fill="#ffffff" stroke="#38a2d4" stroke-width="1.05" stroke-linejoin="miter"/>
<path d="M324.90,43.28 L326.85,46.78 L322.95,46.78 Z" fill="#ffffff" stroke="#38a2d4" stroke-width="1.05" stroke-linejoin="miter"/>
<path d="M330.29,43.28 L332.24,46.78 L328.34,46.78 Z" fill="#ffffff" stroke="#38a2d4" stroke-width="1.05" stroke-linejoin="miter"/>
<path d="M335.68,43.28 L337.63,46.78 L333.73,46.78 Z" fill="#ffffff" stroke="#38a2d4" stroke-width="1.05" stroke-linejoin="miter"/>
<path d="M341.07,43.28 L343.02,46.78 L339.12,46.78 Z" fill="#ffffff" stroke="#38a2d4" stroke-width="1.05" stroke-linejoin="miter"/>
<path d="M346.46,43.28 L348.41,46.78 L344.51,46.78 Z" fill="#ffffff" stroke="#38a2d4" stroke-width="1.05" stroke-linejoin="miter"/>
<path d="M66.39,216.25 L68.34,219.75 L64.44,219.75 Z" fill="#ffffff" stroke="#38a2d4" stroke-width="1.05" stroke-linejoin="miter"/>
<path d="M71.78,209.00 L73.73,212.50 L69.83,212.50 Z" fill="#ffffff" stroke="#38a2d4" stroke-width="1.05" stroke-linejoin="miter"/>
<path d="M77.17,204.85 L79.12,208.35 L75.22,208.35 Z" fill="#ffffff" stroke="#38a2d4" stroke-width="1.05" stroke-linejoin="miter"/>
<path d="M82.56,198.64 L84.51,202.14 L80.61,202.14 Z" fill="#ffffff" stroke="#38a2d4" stroke-width="1.05" stroke-linejoin="miter"/>
<path d="M87.95,192.42 L89.90,195.92 L86.00,195.92 Z" fill="#ffffff" stroke="#38a2d4" stroke-width="1.05" stroke-linejoin="miter"/>
<path d="M93.34,185.69 L95.29,189.19 L91.39,189.19 Z" fill="#ffffff" stroke="#38a2d4" stroke-width="1.05" stroke-linejoin="miter"/>
<path d="M98.73,191.64 L100.68,195.14 L96.78,195.14 Z" fill="#ffffff" stroke="#38a2d4" stroke-width="1.05" stroke-linejoin="miter"/>
<path d="M104.12,191.64 L106.07,195.14 L102.17,195.14 Z" fill="#ffffff" stroke="#38a2d4" stroke-width="1.05" stroke-linejoin="miter"/>
<path d="M109.51,191.64 L111.46,195.14 L107.56,195.14 Z" fill="#ffffff" stroke="#38a2d4" stroke-width="1.05" stroke-linejoin="miter"/>
<path d="M114.90,191.64 L116.85,195.14 L112.95,195.14 Z" fill="#ffffff" stroke="#38a2d4" stroke-width="1.05" stroke-linejoin="miter"/>
<path d="M120.29,191.64 L122.24,195.14 L118.34,195.14 Z" fill="#ffffff" stroke="#38a2d4" stroke-width="1.05" stroke-linejoin="miter"/>
<path d="M125.68,191.64 L127.63,195.14 L123.73,195.14 Z" fill="#ffffff" stroke="#38a2d4" stroke-width="1.05" stroke-linejoin="miter"/>
<text transform="translate(203.60,256.70) scale(0.7,1)" x="0" y="0" font-size="8.7" text-anchor="middle" fill="#262626" stroke="#262626" stroke-width="0.18">Delayed time (h)</text>
<text transform="translate(203.60,531.20) scale(0.7,1)" x="0" y="0" font-size="8.7" text-anchor="middle" fill="#262626" stroke="#262626" stroke-width="0.18">Delayed time (h)</text>
<text transform="translate(35.30,131.00) rotate(-90) scale(0.695,1)" x="0" y="0" font-size="8.7" text-anchor="middle" fill="#262626" stroke="#262626" stroke-width="0.18">Deviation time (h)</text>
<text transform="translate(24.80,403.30) rotate(-90) scale(0.734,1)" x="0" y="0" font-size="8.7" text-anchor="middle" fill="#262626" stroke="#262626" stroke-width="0.18">Difference of deviation time between</text>
<text transform="translate(35.30,403.30) rotate(-90) scale(0.728,1)" x="0" y="0" font-size="8.7" text-anchor="middle" fill="#262626" stroke="#262626" stroke-width="0.18">EHRA guideline and new proposed strategies (h)</text>
<line x1="358" y1="112.70" x2="372.6" y2="112.70" stroke="#38a2d4" stroke-width="1.2"/>
<circle cx="365.30" cy="112.70" r="1.8" fill="#2b90c2"/>
<text x="375.8" y="115.10" font-size="6.8" fill="#262626">EHRA guideline (drug concentration)</text>
<line x1="358" y1="126.30" x2="361.2" y2="126.30" stroke="#38a2d4" stroke-width="1.2"/>
<line x1="369.4" y1="126.30" x2="372.6" y2="126.30" stroke="#38a2d4" stroke-width="1.2"/>
<path d="M365.30,124.13 L367.25,127.63 L363.35,127.63 Z" fill="#ffffff" stroke="#38a2d4" stroke-width="1.05" stroke-linejoin="miter"/>
<text x="375.8" y="128.70" font-size="6.8" fill="#262626">EHRA guideline (FXa activity)</text>
<line x1="358" y1="139.90" x2="372.6" y2="139.90" stroke="#bb1139" stroke-width="1.2"/>
<circle cx="365.30" cy="139.90" r="1.8" fill="#b00f37"/>
<text x="375.8" y="142.30" font-size="6.8" fill="#262626">new proposed strategies (drug concentration)</text>
<line x1="358" y1="153.50" x2="361.2" y2="153.50" stroke="#bb1139" stroke-width="1.2"/>
<line x1="369.4" y1="153.50" x2="372.6" y2="153.50" stroke="#bb1139" stroke-width="1.2"/>
<path d="M365.30,151.33 L367.25,154.83 L363.35,154.83 Z" fill="#e28a9f" stroke="#bb1139" stroke-width="1.05" stroke-linejoin="miter"/>
<text x="375.8" y="155.90" font-size="6.8" fill="#262626">new proposed strategies (FXa activity)</text>
<line x1="358" y1="397.00" x2="361.2" y2="397.00" stroke="#a0103a" stroke-width="1.2"/>
<line x1="369.4" y1="397.00" x2="372.6" y2="397.00" stroke="#a0103a" stroke-width="1.2"/>
<line x1="362.6" y1="397.00" x2="368" y2="397.00" stroke="#a0103a" stroke-width="1.2"/>
<circle cx="365.30" cy="397.00" r="1.8" fill="#930c33"/>
<text x="375.8" y="399.40" font-size="6.8" fill="#262626">Drug concentration</text>
<line x1="358" y1="410.50" x2="372.6" y2="410.50" stroke="#a0103a" stroke-width="1.2"/>
<path d="M365.30,408.33 L367.25,411.83 L363.35,411.83 Z" fill="#d98a9e" stroke="#a0103a" stroke-width="1.05" stroke-linejoin="miter"/>
<text x="375.8" y="412.90" font-size="6.8" fill="#262626">FXa activity</text>
<rect x="0" y="0" width="520" height="1" fill="#6a6a6a"/>
<rect x="0" y="0" width="1" height="540" fill="#585858"/>
<rect x="519" y="0" width="1" height="540" fill="#3c3c3c"/>
<rect x="0" y="539" width="520" height="1" fill="#3a3a3a"/>
</svg></body></html>
